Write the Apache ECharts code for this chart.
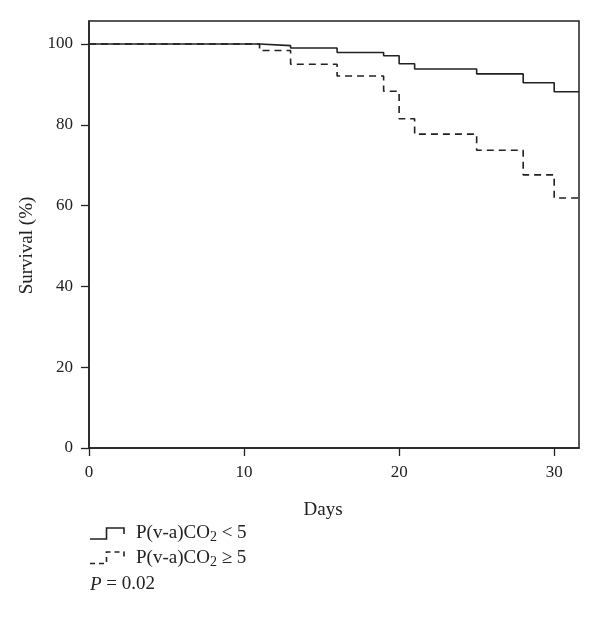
<!DOCTYPE html>
<html>
<head>
<meta charset="utf-8">
<script src="https://cdn.jsdelivr.net/npm/echarts@6/dist/echarts.min.js"></script>
<style>
  html, body { margin: 0; padding: 0; background: #fff; }
  #chart { width: 600px; height: 628px; }
</style>
</head>
<body>
<div id="chart"></div>
<script>
// survival step data (day when the step happens, survival % after it)
var days = [0, 11, 13, 16, 19, 20, 21, 25, 28, 30, 31.6];
var survLow = [100, 99.6, 99.0, 97.9, 97.1, 95.1, 93.8, 92.6, 90.4, 88.2, 88.2];
var survHigh = [100, 98.4, 95.0, 92.1, 88.3, 81.5, 77.7, 73.7, 67.6, 61.9, 61.9];
var xTicks = [0, 10, 20, 30];
var yTicks = [0, 20, 40, 60, 80, 100];
var labelLow = "P(v-a)CO{sub|2} < 5";
var labelHigh = "P(v-a)CO{sub|2} \u2265 5";
var pValue = "0.02";

var font = "'Liberation Serif', 'DejaVu Serif', serif";
var ink = "#222";

function pairs(xs, ys) {
    return xs.map(function (x, i) { return [x, ys[i]]; });
}

var chart = echarts.init(document.getElementById("chart"));

var legendText = {
    fontFamily: font,
    fontSize: 19,
    fill: ink,
    rich: {
        sub: { fontFamily: font, fontSize: 14, fill: ink, padding: [8, 0, 0, 0] }
    }
};

chart.setOption({
    animation: false,
    grid: {
        left: 89, top: 21, right: 21, bottom: 180,
        show: true,
        borderColor: ink,
        borderWidth: 1.5
    },
    xAxis: {
        type: "value",
        min: 0,
        max: 31.6,
        name: "Days",
        nameLocation: "middle",
        nameGap: 53,
        nameTextStyle: { fontFamily: font, fontSize: 19, color: ink, padding: [0, 22, 0, 0] },
        axisLine: { lineStyle: { color: ink, width: 1.5 } },
        axisTick: { customValues: xTicks, length: 8, lineStyle: { color: ink, width: 1.3 } },
        axisLabel: { customValues: xTicks, margin: 16, fontFamily: font, fontSize: 17, color: ink },
        splitLine: { show: false }
    },
    yAxis: {
        type: "value",
        min: 0,
        max: 105.7,
        name: "Survival (%)",
        nameLocation: "middle",
        nameGap: 42,
        nameTextStyle: { fontFamily: font, fontSize: 19, color: ink, padding: [0, 22, 0, 0] },
        axisLine: { lineStyle: { color: ink, width: 1.5 } },
        axisTick: { customValues: yTicks, length: 8, lineStyle: { color: ink, width: 1.3 } },
        axisLabel: { customValues: yTicks, margin: 16, fontFamily: font, fontSize: 17, color: ink },
        splitLine: { show: false }
    },
    series: [
        {
            name: "low",
            type: "line",
            step: "end",
            symbol: "none",
            data: pairs(days, survLow),
            lineStyle: { color: ink, width: 1.6 }
        },
        {
            name: "high",
            type: "line",
            step: "end",
            symbol: "none",
            data: pairs(days, survHigh),
            lineStyle: { color: ink, width: 1.6, type: [7, 5] }
        }
    ],
    graphic: [
        {
            type: "polyline",
            shape: { points: [[90, 539], [106.5, 539], [106.5, 528], [124, 528], [124, 534]] },
            style: { stroke: ink, lineWidth: 1.6, fill: null }
        },
        {
            type: "text",
            left: 136, top: 524,
            style: Object.assign({ text: labelLow }, legendText)
        },
        {
            type: "polyline",
            shape: { points: [[90, 563.5], [106.5, 563.5], [106.5, 552], [124, 552], [124, 558]] },
            style: { stroke: ink, lineWidth: 1.6, fill: null, lineDash: [5, 4] }
        },
        {
            type: "text",
            left: 136, top: 549,
            style: Object.assign({ text: labelHigh }, legendText)
        },
        {
            type: "text",
            left: 90, top: 575,
            style: {
                text: "{i|P} = " + pValue,
                fontFamily: font,
                fontSize: 19,
                fill: ink,
                rich: { i: { fontFamily: font, fontSize: 19, fontStyle: "italic", fill: ink } }
            }
        }
    ]
});
</script>
</body>
</html>
